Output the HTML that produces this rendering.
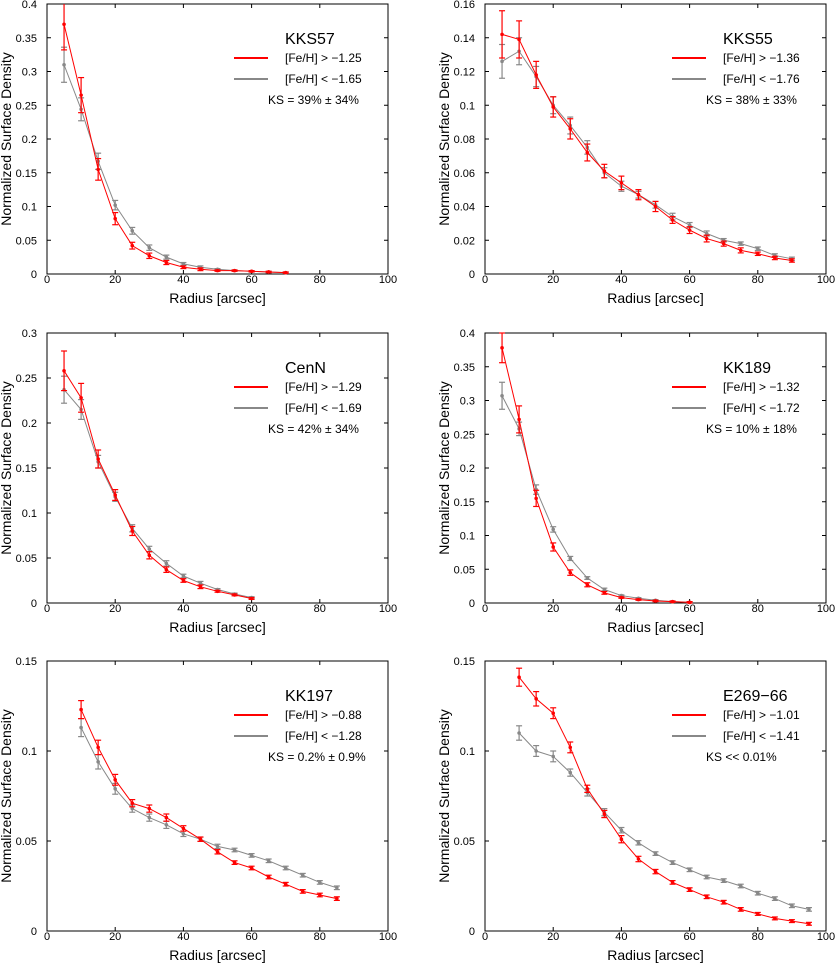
<!DOCTYPE html>
<html><head><meta charset="utf-8"><style>
body{margin:0;background:#fff;width:837px;height:965px;overflow:hidden}
svg{display:block;font-family:"Liberation Sans",sans-serif}
</style></head><body>
<svg id="chart" width="837" height="965" viewBox="0 0 837 965"></svg>
<script>
// ---- data ----
const p1Names=["KKS57","[Fe/H] > \u22121.25","[Fe/H] < \u22121.65","KS = 39% \u00b1 34%"];
const p1X=[5,10,15,20,25,30,35,40,45,50,55,60,65,70];
const p1Red=[0.37,0.265,0.155,0.082,0.042,0.027,0.017,0.010,0.007,0.005,0.005,0.004,0.003,0.002];
const p1RedErr=[0.038,0.026,0.016,0.009,0.005,0.004,0.003,0.002,0.002,0.001,0.001,0.001,0.001,0.001];
const p1Gray=[0.31,0.244,0.167,0.102,0.064,0.039,0.025,0.015,0.010,0.007,0.005,0.004,0.003,0.002];
const p1GrayErr=[0.026,0.017,0.012,0.007,0.005,0.004,0.003,0.002,0.002,0.001,0.001,0.001,0.001,0.001];
const p1Ticks=[0,0.05,0.1,0.15,0.2,0.25,0.3,0.35,0.4];
const p1Labels=["0","0.05","0.1","0.15","0.2","0.25","0.3","0.35","0.4"];

const p2Names=["KKS55","[Fe/H] > \u22121.36","[Fe/H] < \u22121.76","KS = 38% \u00b1 33%"];
const p2X=[5,10,15,20,25,30,35,40,45,50,55,60,65,70,75,80,85,90];
const p2Red=[0.142,0.139,0.118,0.099,0.086,0.072,0.061,0.054,0.047,0.040,0.032,0.026,0.021,0.018,0.014,0.012,0.0095,0.008];
const p2RedErr=[0.014,0.011,0.008,0.006,0.006,0.005,0.004,0.004,0.003,0.003,0.002,0.002,0.002,0.0015,0.0015,0.001,0.001,0.001];
const p2Gray=[0.126,0.132,0.117,0.100,0.088,0.075,0.060,0.052,0.047,0.041,0.034,0.029,0.024,0.020,0.018,0.015,0.011,0.009];
const p2GrayErr=[0.010,0.008,0.006,0.005,0.005,0.004,0.003,0.003,0.002,0.002,0.002,0.0015,0.0015,0.001,0.001,0.001,0.001,0.001];
const p2Ticks=[0,0.02,0.04,0.06,0.08,0.1,0.12,0.14,0.16];
const p2Labels=["0","0.02","0.04","0.06","0.08","0.1","0.12","0.14","0.16"];

const p3Names=["CenN","[Fe/H] > \u22121.29","[Fe/H] < \u22121.69","KS = 42% \u00b1 34%"];
const p3X=[5,10,15,20,25,30,35,40,45,50,55,60];
const p3Red=[0.258,0.228,0.160,0.120,0.080,0.053,0.037,0.025,0.018,0.013,0.009,0.005];
const p3RedErr=[0.022,0.016,0.010,0.006,0.005,0.004,0.003,0.002,0.002,0.001,0.001,0.001];
const p3Gray=[0.237,0.215,0.157,0.118,0.083,0.060,0.044,0.030,0.022,0.015,0.010,0.006];
const p3GrayErr=[0.015,0.011,0.007,0.005,0.004,0.003,0.003,0.002,0.002,0.001,0.001,0.001];
const p3Ticks=[0,0.05,0.1,0.15,0.2,0.25,0.3];
const p3Labels=["0","0.05","0.1","0.15","0.2","0.25","0.3"];

const p4Names=["KK189","[Fe/H] > \u22121.32","[Fe/H] < \u22121.72","KS = 10% \u00b1 18%"];
const p4X=[5,10,15,20,25,30,35,40,45,50,55,60];
const p4Red=[0.378,0.272,0.155,0.083,0.045,0.027,0.015,0.008,0.005,0.003,0.002,0.001];
const p4RedErr=[0.022,0.020,0.012,0.006,0.004,0.003,0.002,0.001,0.001,0.001,0.001,0.001];
const p4Gray=[0.307,0.258,0.168,0.109,0.066,0.037,0.020,0.011,0.007,0.004,0.002,0.001];
const p4GrayErr=[0.020,0.010,0.007,0.004,0.003,0.002,0.002,0.001,0.001,0.001,0.001,0.001];
const p4Ticks=[0,0.05,0.1,0.15,0.2,0.25,0.3,0.35,0.4];
const p4Labels=["0","0.05","0.1","0.15","0.2","0.25","0.3","0.35","0.4"];

const p5Names=["KK197","[Fe/H] > \u22120.88","[Fe/H] < \u22121.28","KS = 0.2% \u00b1 0.9%"];
const p5X=[10,15,20,25,30,35,40,45,50,55,60,65,70,75,80,85];
const p5Red=[0.123,0.102,0.084,0.071,0.068,0.063,0.057,0.051,0.044,0.038,0.035,0.030,0.026,0.022,0.020,0.018];
const p5RedErr=[0.005,0.004,0.003,0.002,0.002,0.002,0.0015,0.0012,0.0012,0.001,0.001,0.001,0.001,0.001,0.001,0.001];
const p5Gray=[0.113,0.094,0.079,0.068,0.063,0.059,0.054,0.051,0.047,0.045,0.042,0.039,0.035,0.031,0.027,0.024];
const p5GrayErr=[0.005,0.004,0.003,0.002,0.002,0.002,0.0015,0.0012,0.0012,0.001,0.001,0.001,0.001,0.001,0.001,0.001];
const p5Ticks=[0,0.05,0.1,0.15];
const p5Labels=["0","0.05","0.1","0.15"];

const p6Names=["E269\u221266","[Fe/H] > \u22121.01","[Fe/H] < \u22121.41","KS << 0.01%"];
const p6X=[10,15,20,25,30,35,40,45,50,55,60,65,70,75,80,85,90,95];
const p6Red=[0.141,0.129,0.121,0.102,0.079,0.065,0.051,0.040,0.033,0.027,0.023,0.019,0.016,0.012,0.0095,0.007,0.0055,0.004];
const p6RedErr=[0.005,0.004,0.003,0.003,0.002,0.002,0.002,0.0015,0.0012,0.001,0.001,0.001,0.001,0.001,0.0008,0.0008,0.0008,0.0008];
const p6Gray=[0.110,0.100,0.097,0.088,0.077,0.066,0.056,0.049,0.043,0.038,0.034,0.030,0.028,0.025,0.021,0.018,0.014,0.012];
const p6GrayErr=[0.004,0.003,0.003,0.002,0.002,0.002,0.0015,0.0012,0.001,0.001,0.001,0.001,0.001,0.001,0.001,0.001,0.001,0.001];
const p6Ticks=[0,0.05,0.1,0.15];
const p6Labels=["0","0.05","0.1","0.15"];

const xTicks=[0,20,40,60,80,100];
const xTickLabels=["0","20","40","60","80","100"];

const NS="http://www.w3.org/2000/svg";
const svg=document.getElementById('chart');
function mk(tag,attrs,parent,text){
  const e=document.createElementNS(NS,tag);
  for(const k in attrs)e.setAttribute(k,attrs[k]);
  if(text!==undefined)e.textContent=text;
  (parent||svg).appendChild(e);return e;
}
function panel(id,L,T,names,xs,red,redE,gray,grayE,yt,yl){
  const W=341,H=270,R=L+W,B=T+H;
  const ymax=yt[yt.length-1];
  const sx=v=>L+v/100*W, sy=v=>B-v/ymax*H;
  const g=mk('g',{});
  
  
  const box=mk('rect',{x:L,y:T,width:W,height:H,fill:'none',stroke:'#000','stroke-width':1},g);
  
  
  xTicks.forEach((t,i)=>{
    const x=sx(t);
    mk('line',{x1:x,y1:B,x2:x,y2:B-4,stroke:'#000'},g);
    mk('line',{x1:x,y1:T,x2:x,y2:T+4,stroke:'#000'},g);
    const tl=mk('text',{x:x,y:B+9,'font-size':11,'text-anchor':'middle'},g,xTickLabels[i]);
    
    
  });
  yt.forEach((t,i)=>{
    const y=sy(t);
    mk('line',{x1:L,y1:y,x2:L+4,y2:y,stroke:'#000'},g);
    mk('line',{x1:R,y1:y,x2:R-4,y2:y,stroke:'#000'},g);
    const tl=mk('text',{x:L-10,y:y+4,'font-size':11,'text-anchor':'end'},g,yl[i]);
    
    
  });
  const xt=mk('text',{x:L+W/2,y:B+29,'font-size':14,'text-anchor':'middle'},g,'Radius [arcsec]');
  
  
  const yT=mk('text',{x:0,y:0,'font-size':14,'text-anchor':'middle',transform:`translate(${L-36},${T+H/2}) rotate(-90)`},g,'Normalized Surface Density');
  
  
  function series(vals,errs,col,name){
    const sg=mk('g',{},g);
    
    
    const pts=xs.map((x,i)=>sx(x)+','+sy(vals[i])).join(' ');
    mk('polyline',{points:pts,fill:'none',stroke:col,'stroke-width':1},sg);
    xs.forEach((x,i)=>{
      const cx=sx(x),y1=sy(Math.min(vals[i]+errs[i],ymax)),y2=sy(vals[i]-errs[i]);
      mk('line',{x1:cx,y1:y1,x2:cx,y2:y2,stroke:col,'stroke-width':1.2},sg);
      if(vals[i]+errs[i]<=ymax)mk('line',{x1:cx-3,y1:y1,x2:cx+3,y2:y1,stroke:col,'stroke-width':1.2},sg);
      mk('line',{x1:cx-3,y1:y2,x2:cx+3,y2:y2,stroke:col,'stroke-width':1.2},sg);
      const d=mk('circle',{cx:cx,cy:sy(vals[i]),r:1.8,fill:col},sg);
      
      
    });
  }
  series(gray,grayE,'#888','gray-series');
  series(red,redE,'#f00','red-series');
  const tt=mk('text',{x:L+238,y:T+40,'font-size':16},g,names[0]);
  
  
  const lg=mk('g',{},g);
  
  
  mk('line',{x1:L+187,y1:T+54,x2:L+221,y2:T+54,stroke:'#f00','stroke-width':2},lg);
  mk('text',{x:L+238,y:T+58,'font-size':12},lg,names[1]);
  mk('line',{x1:L+187,y1:T+75,x2:L+221,y2:T+75,stroke:'#888','stroke-width':2},lg);
  mk('text',{x:L+238,y:T+79,'font-size':12},lg,names[2]);
  const ks=mk('text',{x:L+221,y:T+100,'font-size':12},g,names[3]);
  
  
}
panel('panel-kks57',47,4,p1Names,p1X,p1Red,p1RedErr,p1Gray,p1GrayErr,p1Ticks,p1Labels);
panel('panel-kks55',485,4,p2Names,p2X,p2Red,p2RedErr,p2Gray,p2GrayErr,p2Ticks,p2Labels);
panel('panel-cenn',47,333,p3Names,p3X,p3Red,p3RedErr,p3Gray,p3GrayErr,p3Ticks,p3Labels);
panel('panel-kk189',485,333,p4Names,p4X,p4Red,p4RedErr,p4Gray,p4GrayErr,p4Ticks,p4Labels);
panel('panel-kk197',47,661,p5Names,p5X,p5Red,p5RedErr,p5Gray,p5GrayErr,p5Ticks,p5Labels);
panel('panel-e269-66',485,661,p6Names,p6X,p6Red,p6RedErr,p6Gray,p6GrayErr,p6Ticks,p6Labels);
</script>
</body></html>
